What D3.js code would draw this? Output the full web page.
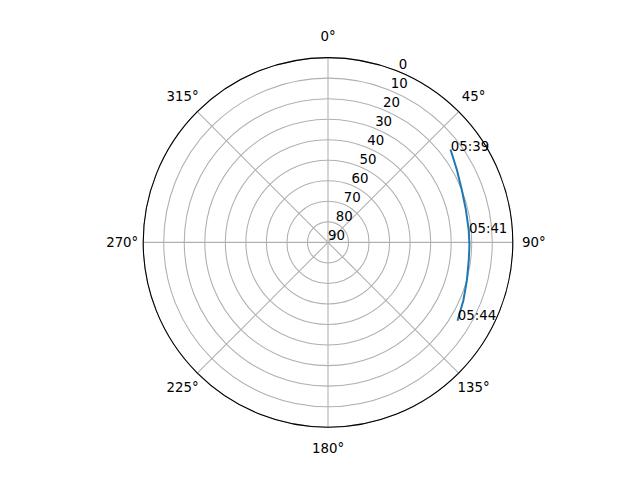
<!DOCTYPE html>
<html>
<head>
<meta charset="utf-8">
<script src="https://cdn.jsdelivr.net/npm/d3@7"></script>
<style>
  body { margin: 0; background: #fff; }
  text { font-family: "DejaVu Sans", sans-serif; font-size: 13.33px; fill: #000; }
</style>
</head>
<body>
<div id="visualization"></div>
<script>
// pass track: azimuth (deg, clockwise from north) and elevation (deg)
const azimuth   = [53.2, 60.7, 68.6, 76.8, 85.0, 91.1, 97.2, 105.2, 113.1, 120.8];
const elevation = [15.3, 18.0, 20.0, 21.0, 21.2, 21.1, 20.9, 19.9, 18.3, 16.4];

// time labels along the track
const timeLabels    = ["05:39", "05:41", "05:44"];
const timeAzimuth   = [53.2, 86.1, 120.8];
const timeElevation = [15.3, 21.2, 16.4];

const thetaTicks = [0, 45, 90, 135, 180, 225, 270, 315];
const radialTicks = [0, 10, 20, 30, 40, 50, 60, 70, 80, 90];

class SkyPlot {
  constructor() {
    this.width = 640;
    this.height = 480;
    this.cx = 328;
    this.cy = 242.4;
    this.radius = 184.8;
    this.buildScales();
    this.buildSvg();
  }

  buildScales() {
    // elevation 0 sits on the rim, 90 at the centre
    this.r = d3.scaleLinear().domain([0, 90]).range([this.radius, 0]);
    this.angle = d3.scaleLinear().domain([0, 360]).range([0, 2 * Math.PI]);
  }

  buildSvg() {
    this.svg = d3.select("#visualization").append("svg")
      .attr("width", this.width)
      .attr("height", this.height);
    this.g = this.svg.append("g")
      .attr("transform", "translate(" + this.cx + "," + this.cy + ")");
  }

  point(az, r) {
    const a = this.angle(az);
    return [r * Math.sin(a), -r * Math.cos(a)];
  }

  drawGrid() {
    const grid = this.g.append("g");
    grid.selectAll("circle.ring")
      .data(radialTicks.filter(d => d < 90))
      .enter().append("circle")
      .attr("class", "ring")
      .attr("r", d => this.r(d))
      .attr("fill", "none")
      .attr("stroke", "#b0b0b0")
      .attr("stroke-width", 1.07);

    grid.selectAll("line.spoke")
      .data(thetaTicks)
      .enter().append("line")
      .attr("class", "spoke")
      .attr("x1", 0).attr("y1", 0)
      .attr("x2", d => this.point(d, this.radius)[0])
      .attr("y2", d => this.point(d, this.radius)[1])
      .attr("stroke", "#b0b0b0")
      .attr("stroke-width", 1.07);
  }

  drawTrack() {
    const track = azimuth.map((a, i) => [a, elevation[i]]);
    const line = d3.lineRadial()
      .angle(d => this.angle(d[0]))
      .radius(d => this.r(d[1]));
    this.g.append("path")
      .datum(track)
      .attr("d", line)
      .attr("fill", "none")
      .attr("stroke", "#1f77b4")
      .attr("stroke-width", 2)
      .attr("stroke-linecap", "square");
  }

  drawLabels() {
    // spine
    this.g.append("circle")
      .attr("r", this.radius)
      .attr("fill", "none")
      .attr("stroke", "#000")
      .attr("stroke-width", 1.07);

    this.g.selectAll("text.theta")
      .data(thetaTicks)
      .enter().append("text")
      .attr("class", "theta")
      .attr("x", d => this.point(d, this.radius + 21)[0])
      .attr("y", d => this.point(d, this.radius + 21)[1])
      .attr("text-anchor", "middle")
      .attr("dominant-baseline", "central")
      .text(d => d + "°");

    this.g.selectAll("text.rtick")
      .data(radialTicks)
      .enter().append("text")
      .attr("class", "rtick")
      .attr("x", d => this.point(22.5, this.r(d))[0])
      .attr("y", d => this.point(22.5, this.r(d))[1] - 2.7)
      .text(d => d);

    this.g.selectAll("text.time")
      .data(timeLabels)
      .enter().append("text")
      .attr("class", "time")
      .attr("x", (d, i) => this.point(timeAzimuth[i], this.r(timeElevation[i]))[0])
      .attr("y", (d, i) => this.point(timeAzimuth[i], this.r(timeElevation[i]))[1])
      .text(d => d);
  }
}

const chart = new SkyPlot();
chart.drawGrid();
chart.drawTrack();
chart.drawLabels();
</script>
</body>
</html>
